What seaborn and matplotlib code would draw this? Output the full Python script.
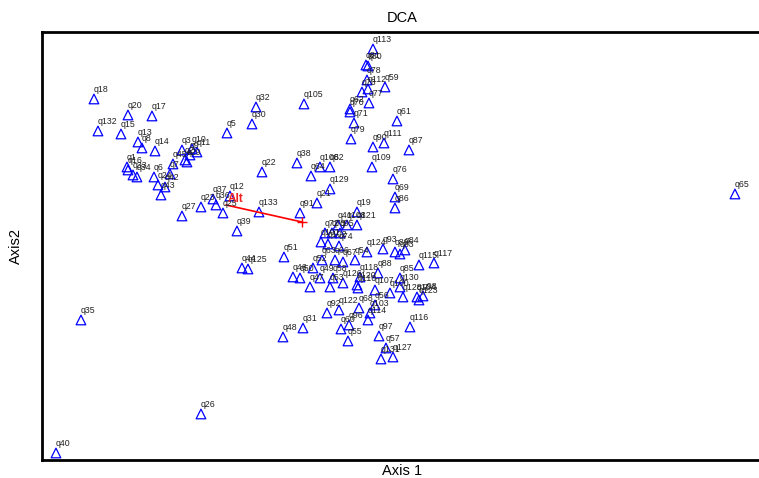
import matplotlib
matplotlib.use("Agg")
import matplotlib.pyplot as plt
import seaborn as sns
import pandas as pd

# site scores (axis 1, axis 2)
site_labels = [
    "q18", "q20", "q17", "q132", "q15", "q13", "q8", "q14", "q3", "q10",
    "q11", "q9", "q2", "q29", "q45", "q1", "q16", "q33", "q34", "q6",
    "q7", "q24", "q42", "q43", "q32", "q30", "q5", "q22", "q105", "q113",
    "q81", "q80", "q78", "q73", "q112", "q59", "q77", "q62", "q70", "q71",
    "q61", "q79", "q90", "q111", "q87", "q38", "q106", "q82", "q64", "q109",
    "q76", "q129", "q69", "q86", "q21", "q91", "q19", "q121", "q41", "q108",
    "q72", "q75", "q95", "q74", "q101", "q102", "q51", "q63", "q66", "q67",
    "q54", "q124", "q93", "q89", "q83", "q84", "q115", "q117", "q46", "q50",
    "q52", "q49", "q58", "q47", "q53", "q88", "q85", "q118", "q126", "q120",
    "q110", "q107", "q100", "q130", "q128", "q92", "q122", "q104", "q123", "q98",
    "q56", "q68", "q103", "q114", "q96", "q60", "q31", "q48", "q55", "q97",
    "q116", "q57", "q127", "q131", "q39", "q44", "q125", "q133", "q12", "q37",
    "q23", "q36", "q25", "q27", "q35", "q26", "q40", "q65",
]
axis1 = [
    0.52, 0.86, 1.10, 0.56, 0.79, 0.96, 1.00, 1.13, 1.40, 1.50,
    1.55, 1.48, 1.43, 1.45, 1.31, 0.85, 0.86, 0.91, 0.95, 1.12,
    1.28, 1.16, 1.23, 1.19, 2.14, 2.10, 1.85, 2.20, 2.62, 3.31,
    3.24, 3.26, 3.25, 3.20, 3.26, 3.43, 3.27, 3.08, 3.08, 3.12,
    3.55, 3.09, 3.31, 3.42, 3.67, 2.55, 2.78, 2.88, 2.69, 3.30,
    3.51, 2.88, 3.53, 3.53, 2.75, 2.58, 3.15, 3.15, 2.96, 3.05,
    2.83, 2.90, 2.98, 2.97, 2.79, 2.86, 2.42, 2.80, 2.93, 3.01,
    3.13, 3.25, 3.41, 3.53, 3.58, 3.63, 3.77, 3.92, 2.51, 2.58,
    2.71, 2.78, 2.91, 2.68, 2.88, 3.36, 3.58, 3.18, 3.01, 3.15,
    3.16, 3.33, 3.48, 3.58, 3.61, 2.85, 2.97, 3.75, 3.77, 3.81,
    3.33, 3.17, 3.28, 3.26, 3.07, 2.99, 2.61, 2.41, 3.06, 3.37,
    3.68, 3.44, 3.51, 3.39, 1.95, 2.00, 2.06, 2.17, 1.88, 1.71,
    1.59, 1.74, 1.81, 1.40, 0.39, 1.59, 0.14, 6.93,
]
axis2 = [
    3.61, 3.45, 3.44, 3.29, 3.26, 3.18, 3.12, 3.09, 3.10, 3.11,
    3.08, 3.05, 3.00, 2.98, 2.96, 2.93, 2.90, 2.85, 2.83, 2.83,
    2.86, 2.75, 2.73, 2.65, 3.53, 3.36, 3.27, 2.88, 3.56, 4.11,
    3.95, 3.94, 3.80, 3.68, 3.71, 3.73, 3.57, 3.51, 3.48, 3.37,
    3.39, 3.21, 3.13, 3.17, 3.10, 2.97, 2.93, 2.93, 2.84, 2.93,
    2.81, 2.71, 2.63, 2.52, 2.57, 2.47, 2.48, 2.35, 2.35, 2.35,
    2.27, 2.27, 2.27, 2.14, 2.18, 2.16, 2.03, 2.00, 2.00, 1.98,
    2.00, 2.08, 2.11, 2.08, 2.06, 2.10, 1.95, 1.97, 1.83, 1.82,
    1.92, 1.82, 1.82, 1.73, 1.73, 1.87, 1.82, 1.83, 1.77, 1.75,
    1.72, 1.70, 1.67, 1.73, 1.63, 1.47, 1.50, 1.63, 1.60, 1.64,
    1.55, 1.52, 1.47, 1.40, 1.35, 1.31, 1.32, 1.23, 1.19, 1.24,
    1.33, 1.12, 1.03, 1.01, 2.29, 1.92, 1.91, 2.48, 2.64, 2.61,
    2.53, 2.55, 2.47, 2.44, 1.40, 0.46, 0.07, 2.66,
]

# fitted environmental vector (Alt): origin and tip
alt_axis1 = [2.60, 1.84]
alt_axis2 = [2.38, 2.55]

sites = pd.DataFrame({"site": site_labels, "Axis1": axis1, "Axis2": axis2})

sns.set_style("white")
plt.rcParams["font.family"] = ["Liberation Sans", "DejaVu Sans"]
plt.rcParams["text.color"] = "black"
plt.rcParams["axes.labelcolor"] = "black"

fig = plt.figure(figsize=(7.59, 4.78), dpi=100)
ax = fig.add_axes([0.0553, 0.0377, 0.9486, 0.8954])

sns.scatterplot(data=sites, x="Axis1", y="Axis2", marker="^", s=48,
                facecolor="none", edgecolor="blue", linewidth=0.9, ax=ax)

for _, r in sites.iterrows():
    ax.annotate(r["site"], (r["Axis1"], r["Axis2"]), xytext=(-0.5, 3.5),
                textcoords="offset points", fontsize=6.3, color="#222222",
                ha="left", va="bottom")

ax.plot(alt_axis1, alt_axis2, color="red", lw=1.2)
ax.plot(alt_axis1[0], alt_axis2[0], marker="+", color="red", ms=7, mew=1)
ax.text(alt_axis1[1] + 0.02, alt_axis2[1] + 0.06, "Alt", color="#ee2222",
        fontsize=8.5, fontweight="bold", ha="left", va="center")

ax.set_xlim(0, 7.2)
ax.set_ylim(0, 4.28)
ax.set_xticks([])
ax.set_yticks([])
for side in ["left", "top", "bottom"]:
    ax.spines[side].set_linewidth(2)
    ax.spines[side].set_color("black")
ax.spines["right"].set_visible(False)

ax.set_xlabel("Axis 1", fontsize=10.5, labelpad=3)
ax.set_ylabel("Axis2", fontsize=10.5, labelpad=14)
ax.set_title("DCA", fontsize=10.5, pad=7)

fig.savefig("out.png", dpi=100)
